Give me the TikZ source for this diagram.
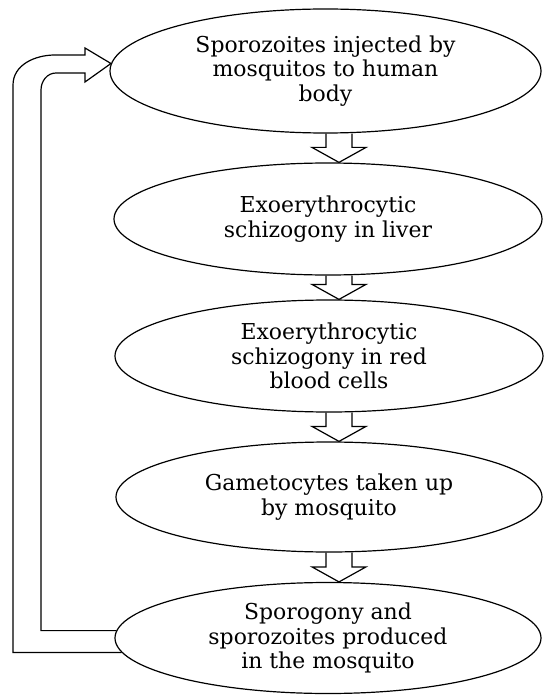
\documentclass[tikz,border=0pt]{standalone}
\usepackage{fontspec}
\setmainfont{DejaVu Serif}
\usetikzlibrary{shapes.geometric,calc}

\begin{document}
\begin{tikzpicture}[x=1bp, y=-1bp, line width=1.2bp,
  stage/.style={draw, ellipse, inner sep=0pt, align=center, font=\fontsize{22}{24.5}\selectfont},
  hollow/.style={draw, line join=miter}]
\useasboundingbox (0,0) rectangle (544,695);
% stages of the cycle
\node[stage, minimum width=431bp, minimum height=124bp] (inject) at (325.5,71) {Sporozoites injected by\\mosquitos to human\\body};
\node[stage, minimum width=428bp, minimum height=112bp] (liver) at (328,219) {Exoerythrocytic\\schizogony in liver};
\node[stage, minimum width=428bp, minimum height=112bp] (rbc) at (329,356) {Exoerythrocytic\\schizogony in red\\blood cells};
\node[stage, minimum width=426bp, minimum height=110bp] (gameto) at (329,497) {Gametocytes taken up\\by mosquito};
\node[stage, minimum width=426bp, minimum height=111bp] (sporo) at (328,638) {Sporogony and\\sporozoites produced\\in the mosquito};
% hollow block arrows down the column
\coordinate (ax) at (339,0);
\foreach \a/\b in {inject/liver, liver/rbc, rbc/gameto, gameto/sporo}
  \draw[hollow] ([xshift=-13bp]ax |- \a.south) -- ([xshift=-13bp,yshift=15bp]ax |- \b.north) -- ([xshift=-27bp,yshift=15bp]ax |- \b.north) -- (ax |- \b.north) -- ([xshift=27bp,yshift=15bp]ax |- \b.north) -- ([xshift=13bp,yshift=15bp]ax |- \b.north) -- ([xshift=13bp]ax |- \a.south);
% hollow return arrow on the left
\coordinate (o1) at (13,85);
\coordinate (o2) at (55,55);
\coordinate (i1) at (41,90);
\coordinate (i2) at (56,73);
\coordinate (hb) at (85,0);
\draw[hollow] (sporo.184) -- (sporo.184 -| o1) -- (o1) to[out=90, in=180] (o2) -- (o2 -| hb) -- ([yshift=7bp]o2 -| hb) -- (inject.178) -- ([yshift=-9bp]i2 -| hb) -- (i2 -| hb) -- (i2) to[out=180, in=90] (i1) -- (i1 |- sporo.178) -- (sporo.178);
\end{tikzpicture}
\end{document}
